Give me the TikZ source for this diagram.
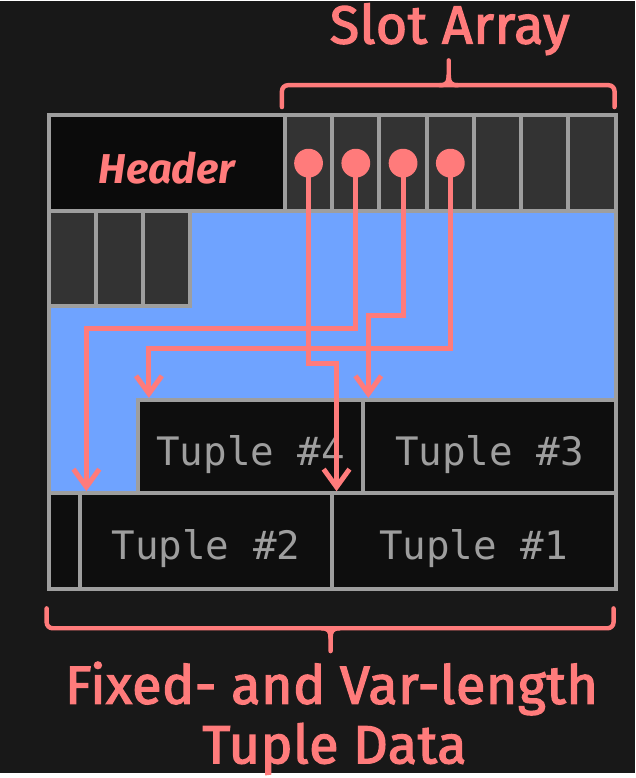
\documentclass[tikz,border=0pt]{standalone}
\usepackage{fontspec}
\setmainfont{Fira Sans}
\setmonofont{DejaVu Sans Mono}
\newfontfamily\labelfont{Fira Sans}[FakeBold=2.5,LetterSpace=1.2]
\usetikzlibrary{arrows.meta}
\definecolor{bg}{HTML}{181818}
\definecolor{salmon}{HTML}{FF7B7B}
\definecolor{rule}{HTML}{9E9E9E}
\definecolor{free}{HTML}{6FA3FF}
\definecolor{slot}{HTML}{333333}
\definecolor{data}{HTML}{0E0E0E}
\definecolor{hdr}{HTML}{0B0B0B}

\begin{document}
\begin{tikzpicture}[x=1pt,y=-1pt,
  box node/.style={draw=rule,line width=4pt,inner sep=0pt,outer sep=0pt,anchor=north west},
  slot node/.style={box node,fill=slot,minimum width=47.6pt,minimum height=97pt},
  tuple node/.style={box node,fill=data,minimum height=94pt,text=rule,
    font=\ttfamily\fontsize{39.5}{40}\selectfont,text height=38pt,text depth=0pt},
  pin node/.style={circle,fill=salmon,minimum size=29pt,inner sep=0pt},
  label node/.style={text=salmon,anchor=base,font=\labelfont\fontsize{54}{60}\selectfont},
  ptr/.style={salmon,line width=5pt,-{Straight Barb[length=18pt,width=26pt]},shorten >=2pt},
  brace line/.style={salmon,line width=4.5pt,line cap=round}]

  \fill[bg] (0,0) rectangle (640,778);

  % the page
  \node[box node,fill=free,minimum width=571pt,minimum height=477pt] (page) at (49,115) {};
  \node[box node,fill=hdr,minimum width=238pt,minimum height=97pt,text=salmon,
    font=\bfseries\itshape\fontsize{42}{42}\selectfont,text height=40pt,text depth=0pt]
    (hdr) at (49,115) {Header};
  \foreach \i in {1,...,7}
    \node[slot node] (s\i) at ({287+47.6*(\i-1)},115) {};
  \foreach \i in {1,2,3}
    \node[slot node,minimum height=95pt] (f\i) at ({49+47.6*(\i-1)},212) {};

  % tuples
  \node[tuple node,minimum width=227pt] (t4) at (139,402) {Tuple \#4};
  \node[tuple node,minimum width=254pt] (t3) at (366,402) {Tuple \#3};
  \node[box node,fill=data,minimum width=32pt,minimum height=96pt] (gap) at (49,496) {};
  \node[tuple node,minimum width=253pt,minimum height=96pt] (t2) at (81,496) {Tuple \#2};
  \node[tuple node,minimum width=286pt,minimum height=96pt] (t1) at (334,496) {Tuple \#1};

  % slot pointers
  \foreach \i in {1,...,4}
    \node[pin node] (p\i) at (s\i) {};
  \coordinate (c1) at (339,365);
  \coordinate (c2) at (87,330);
  \coordinate (c3) at (371,317);
  \coordinate (c4) at (150,350);
  \draw[ptr] (p1.center) |- (c1) -- (c1 |- t1.north);
  \draw[ptr] (p2.center) |- (c2) -- (c2 |- t2.north);
  \draw[ptr] (p3.center) |- (c3) -- (c3 |- t3.north);
  \draw[ptr] (p4.center) |- (c4) -- (c4 |- t4.north);

  % braces and labels
  \draw[brace line,rounded corners=6pt] (284,107) -- (284,85) -- (619,85) -- (619,107);
  \draw[brace line] (443,85) .. controls (450,85) and (452,82) .. (452,75) -- (452,60);
  \draw[brace line] (461,85) .. controls (454,85) and (452,82) .. (452,75);
  \node[label node] (top) at (453,43) {Slot Array};

  \draw[brace line,rounded corners=6pt] (47,612) -- (47,632) -- (618,632) -- (618,612);
  \draw[brace line] (324,632) .. controls (331,632) and (333,635) .. (333,642) -- (333,655);
  \draw[brace line] (342,632) .. controls (335,632) and (333,635) .. (333,642);
  \node[label node] (bot1) at (334,708) {Fixed- and Var-length};
  \node[label node] (bot2) at (337,768) {Tuple Data};

\end{tikzpicture}
\end{document}
